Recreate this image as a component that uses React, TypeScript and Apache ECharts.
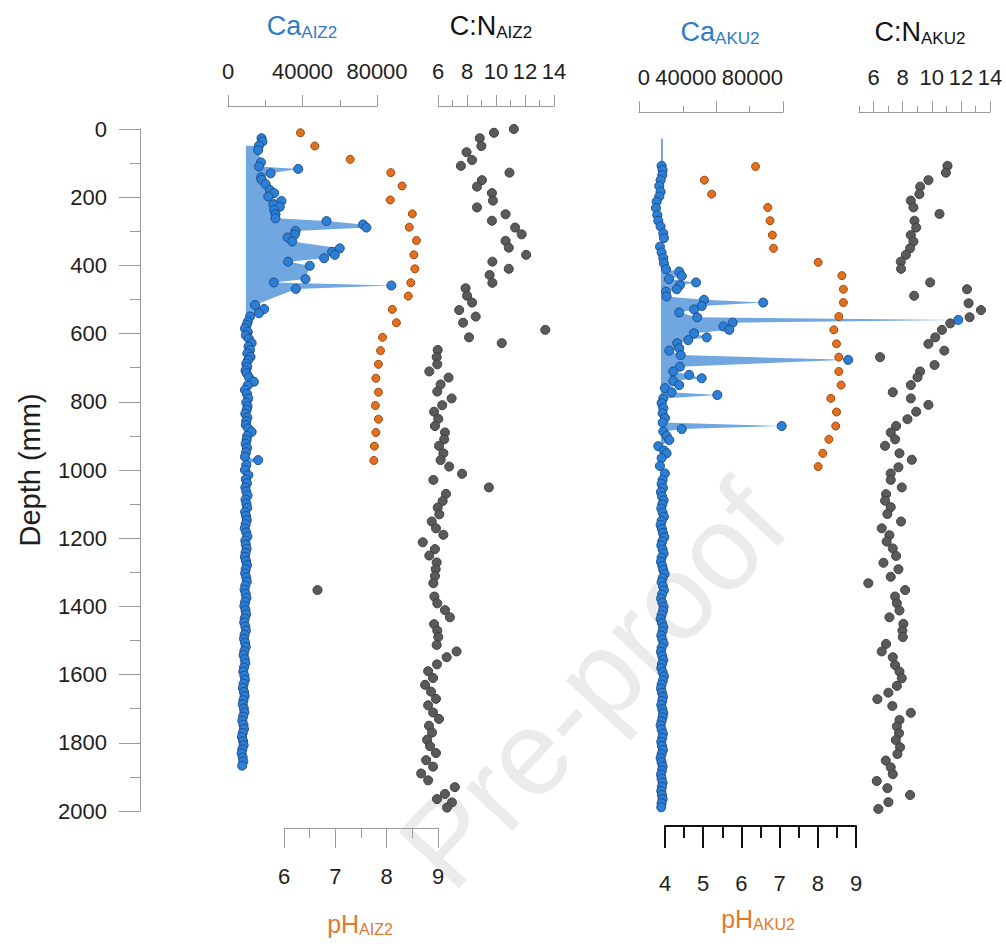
import React, { useEffect, useRef } from 'react';
import * as echarts from 'echarts';

// ---------- data: [value, depth (mm)] ----------
const CA_AIZ2: [number, number][] = [
  [18000, 27], [18500, 37], [16600, 49], [16200, 62], [17700, 98], [16600, 110], [37700, 117], [22900, 130],
  [17700, 142], [18100, 149], [20200, 162], [22500, 179], [24800, 188], [21600, 198], [28700, 211], [24300, 221],
  [27800, 228], [24800, 237], [25500, 250], [25500, 262], [52900, 270], [72500, 280], [74300, 289], [36300, 299],
  [35900, 309], [32000, 318], [34500, 330], [60000, 350], [55900, 360], [57300, 369], [51600, 379], [32300, 389],
  [43900, 401], [41600, 440], [24600, 450], [87700, 459], [36400, 469], [14500, 516], [19400, 528], [16600, 540],
  [11800, 550], [10600, 565], [10000, 575], [9100, 585], [10600, 595], [9600, 605], [11200, 615], [12700, 628],
  [11000, 638], [11800, 648], [10400, 658], [12100, 668], [10800, 678], [9800, 688], [10300, 698], [9400, 708],
  [10000, 716], [11200, 728], [13900, 741], [10600, 752], [9100, 765], [10200, 777], [10900, 790], [9800, 802],
  [10500, 813], [10000, 824], [9300, 835], [10400, 846], [9800, 857], [9600, 868], [10800, 878], [12700, 888],
  [10300, 900], [10000, 912], [9500, 923], [10200, 935], [9700, 948], [9100, 961], [16200, 971], [9800, 985],
  [9100, 1000], [10900, 1015], [9600, 1027], [10200, 1039], [9300, 1051], [9800, 1063], [10500, 1075], [9400, 1087],
  [9900, 1099], [10300, 1111], [9200, 1123], [9700, 1135], [10100, 1147], [9500, 1159], [9000, 1171], [9800, 1183],
  [10400, 1195], [9300, 1207], [9600, 1219], [10000, 1231], [9400, 1243], [9100, 1255], [9700, 1267], [10200, 1279],
  [9500, 1291], [9200, 1303], [9800, 1315], [10100, 1327], [9300, 1339], [8900, 1351], [9500, 1363], [9900, 1375],
  [9200, 1387], [8800, 1399], [9400, 1411], [9700, 1423], [9000, 1435], [8700, 1447], [9300, 1459], [9600, 1471],
  [8900, 1483], [8600, 1495], [9200, 1507], [9500, 1519], [8800, 1531], [8400, 1543], [9000, 1555], [9300, 1567],
  [8600, 1579], [8200, 1591], [8800, 1603], [9100, 1615], [8400, 1627], [8000, 1639], [8600, 1651], [8900, 1663],
  [8300, 1675], [7900, 1687], [8500, 1699], [8800, 1711], [8100, 1723], [7700, 1735], [8300, 1747], [8600, 1759],
  [7900, 1771], [7500, 1783], [8100, 1795], [8400, 1807], [7700, 1819], [7300, 1831], [7900, 1843], [8200, 1855],
  [7600, 1867],
];
const CA_AIZ2_BASE = 9600;
const CA_AIZ2_FILL_FROM = 45;

const PH_AIZ2: [number, number][] = [
  [6.32, 11], [6.6, 50], [7.29, 89], [8.08, 128], [8.3, 167], [8.07, 208], [8.5, 249], [8.44, 288], [8.58, 327],
  [8.53, 369], [8.55, 410], [8.47, 451], [8.42, 490], [8.11, 529], [8.19, 568], [7.92, 611], [7.88, 650],
  [7.84, 690], [7.79, 731], [7.84, 772], [7.78, 811], [7.84, 851], [7.79, 890], [7.76, 930], [7.75, 972],
];

const CN_AIZ2: [number, number][] = [
  [11.23, 0], [9.86, 11], [8.88, 27], [8.99, 50], [7.97, 68], [8.35, 91], [7.58, 108], [10.93, 128], [9.03, 150],
  [8.69, 169], [9.72, 188], [9.79, 210], [8.69, 230], [10.66, 250], [9.72, 269], [11.32, 289], [11.77, 309],
  [10.66, 328], [10.88, 348], [12.08, 369], [9.75, 389], [10.88, 410], [9.56, 428], [9.75, 451], [7.9, 467],
  [8.01, 489], [8.35, 509], [7.46, 531], [8.6, 550], [7.73, 568], [13.4, 589], [8.14, 611], [10.4, 628],
  [5.98, 648], [5.91, 669], [5.95, 690], [5.4, 711], [6.73, 729], [6.18, 749], [5.95, 770], [6.94, 790],
  [6.29, 810], [5.73, 829], [6.02, 850], [5.79, 871], [6.48, 890], [6.43, 910], [6.07, 929], [6.37, 951],
  [6.18, 971], [6.77, 990], [7.66, 1011], [5.68, 1029], [9.51, 1051], [6.55, 1070], [6.32, 1091], [5.98, 1110],
  [6.09, 1130], [5.57, 1151], [5.86, 1171], [6.37, 1190], [4.95, 1212], [5.79, 1232], [5.4, 1251], [5.91, 1271],
  [5.84, 1291], [5.79, 1311], [5.68, 1332], [-2.31, 1352], [5.75, 1371], [5.95, 1391], [6.48, 1411], [6.82, 1432],
  [5.73, 1452], [5.95, 1471], [6.02, 1490], [5.91, 1513], [7.28, 1532], [6.6, 1549], [5.93, 1570], [5.32, 1590],
  [5.66, 1610], [5.11, 1630], [5.52, 1650], [5.86, 1671], [5.32, 1690], [5.66, 1711], [6.07, 1730], [5.38, 1750],
  [5.59, 1770], [5.25, 1791], [5.45, 1810], [5.86, 1830], [5.18, 1851], [5.66, 1870], [4.84, 1890], [5.32, 1910],
  [7.16, 1930], [6.48, 1950], [5.93, 1965], [6.96, 1975], [6.62, 1990],
];

const CA_AKU2: [number, number][] = [
  [7000, 108], [7600, 120], [7400, 135], [6400, 150], [5600, 167], [6400, 184], [5600, 198], [4000, 213],
  [3600, 232], [4400, 252], [5000, 269], [6400, 286], [8000, 306], [8400, 320], [6000, 345], [7000, 362],
  [8000, 379], [8400, 394], [9600, 411], [17600, 418], [19100, 431], [11400, 440], [27700, 450], [18000, 458],
  [16100, 470], [9600, 477], [10000, 491], [32500, 501], [68100, 509], [31100, 519], [26500, 529], [17600, 538],
  [28400, 552], [185400, 560], [49700, 568], [44100, 579], [47700, 589], [26500, 599], [34100, 611], [23000, 619],
  [16400, 628], [17600, 643], [11600, 650], [18500, 663], [119200, 677], [18000, 697], [14000, 711], [23600, 721],
  [31100, 731], [14000, 738], [17600, 751], [9000, 760], [13000, 772], [40500, 780], [8000, 790], [7000, 804],
  [8000, 819], [7600, 834], [9000, 848], [7600, 861], [79200, 871], [19100, 880], [8000, 887], [10000, 900],
  [11600, 912], [5000, 930], [8400, 943], [10000, 951], [7000, 965], [6000, 988], [9000, 1010], [7600, 1029],
  [7000, 1041], [7800, 1053], [6600, 1065], [7200, 1077], [8200, 1089], [7400, 1101], [6800, 1113], [7600, 1125],
  [8400, 1137], [7000, 1149], [6400, 1161], [7200, 1173], [7800, 1185], [8600, 1197], [7400, 1209], [6800, 1221],
  [7600, 1233], [8200, 1245], [7000, 1257], [6600, 1269], [7400, 1281], [8000, 1293], [8800, 1305], [7600, 1317],
  [7000, 1329], [7800, 1341], [8400, 1353], [7200, 1365], [6600, 1377], [7400, 1389], [8200, 1401], [7800, 1413],
  [7000, 1425], [6400, 1437], [7200, 1449], [8000, 1461], [7600, 1473], [6800, 1485], [7400, 1497], [8200, 1509],
  [7000, 1521], [6600, 1533], [7400, 1545], [8000, 1557], [7200, 1569], [6800, 1581], [7600, 1593], [8400, 1605],
  [7800, 1617], [7000, 1629], [6600, 1641], [7200, 1653], [7800, 1665], [7400, 1677], [6800, 1689], [7400, 1701],
  [8000, 1713], [7600, 1725], [7000, 1737], [6400, 1749], [7000, 1761], [7800, 1773], [7400, 1785], [6800, 1797],
  [7200, 1809], [7800, 1821], [7000, 1833], [6400, 1845], [7000, 1857], [7600, 1869], [7200, 1881], [6600, 1893],
  [7000, 1905], [7600, 1917], [7200, 1929], [6800, 1941], [7200, 1953], [7600, 1965], [7000, 1977], [6800, 1989],
];
const CA_AKU2_BASE = 6600;
const CA_AKU2_FILL_FROM = 0;
const CA_AKU2_FILL_LEAD: [number, number][] = [[7800, 28], [7800, 100]];

const PH_AKU2: [number, number][] = [
  [6.37, 110], [5.03, 150], [5.22, 191], [6.69, 230], [6.75, 269], [6.81, 311], [6.84, 350], [8.01, 391],
  [8.63, 430], [8.67, 470], [8.67, 509], [8.55, 550], [8.42, 589], [8.49, 630], [8.55, 669], [8.55, 711],
  [8.61, 751], [8.34, 790], [8.49, 830], [8.47, 871], [8.29, 910], [8.13, 951], [8.01, 990],
];

const CN_AKU2: [number, number][] = [
  [11.08, 108], [10.97, 128], [9.77, 150], [9.2, 169], [9.15, 191], [8.56, 210], [8.74, 230], [10.53, 249],
  [8.81, 269], [8.93, 289], [8.56, 311], [8.74, 330], [8.51, 350], [8.22, 369], [7.87, 389], [7.89, 410],
  [9.89, 450], [12.42, 470], [8.79, 489], [12.53, 511], [13.38, 531], [12.6, 552], [11.27, 570], [10.7, 589],
  [10.24, 611], [9.77, 630], [10.86, 650], [6.45, 669], [10.19, 692], [9.2, 711], [9.02, 728], [8.56, 751],
  [7.32, 772], [8.56, 790], [9.77, 809], [8.93, 829], [8.33, 851], [7.55, 871], [7.18, 890], [7.48, 910],
  [6.79, 929], [7.78, 951], [8.63, 970], [7.71, 992], [7.18, 1010], [7.18, 1029], [7.94, 1051], [6.86, 1071],
  [6.79, 1090], [7.18, 1109], [6.95, 1129], [7.89, 1151], [6.56, 1171], [7.09, 1191], [6.9, 1210], [7.32, 1230],
  [7.55, 1252], [6.68, 1272], [7.71, 1291], [7.18, 1313], [5.64, 1332], [8.17, 1352], [7.48, 1371], [7.6, 1391],
  [7.78, 1412], [7.09, 1432], [8.05, 1451], [7.98, 1471], [8.01, 1490], [6.86, 1510], [6.56, 1532], [7.32, 1549],
  [7.48, 1572], [7.78, 1591], [7.94, 1611], [7.6, 1633], [7.02, 1653], [6.26, 1672], [7.29, 1692], [8.56, 1712],
  [7.78, 1733], [7.6, 1752], [7.75, 1772], [7.53, 1792], [7.82, 1813], [7.64, 1833], [6.84, 1852], [7.18, 1872],
  [7.32, 1892], [6.22, 1912], [6.95, 1933], [8.51, 1953], [7.02, 1974], [6.33, 1994],
];

// tick / label values
const CA_AKU2_MINOR_TICKS = [20000, 60000];
const CA_AKU2_MAJOR_TICKS = [-6600, 40000, 80000];
const CA_AKU2_LABELS = [0, 40000, 80000];
const CN_AKU2_MINOR_TICKS = [5, 7, 9, 11, 13];
const CN_AKU2_MAJOR_TICKS = [6, 8, 10, 12, 14];

// ---------- styles ----------
const FONT = "'Liberation Sans', Arial, Helvetica, sans-serif";
const GRAY = '#9b9b9b';
const TXT = '#1e1e1e';
const BLUE = '#2f7cc6';
const ORANGE = '#e0792b';
const FILL = '#70a7e0';
const LABEL_SIZE = 22;

const GRID_TOP = 129;
const GRID_H = 682;

const plain = (v: number) => String(v);

function makeFill(pts: [number, number][], base: number, fromDepth: number, lead: [number, number][]) {
  return (params: any, api: any) => {
    if (params.dataIndex !== 0) return null;
    const path = [...lead, ...pts.filter((p) => p[1] >= fromDepth)];
    const poly: number[][] = [];
    poly.push(api.coord([base, path[0][1]]));
    path.forEach((p) => poly.push(api.coord([Math.max(p[0], base), p[1]])));
    poly.push(api.coord([base, path[path.length - 1][1]]));
    return { type: 'polygon', silent: true, shape: { points: poly }, style: { fill: FILL } };
  };
}

function label(margin: number, extra: any = {}) {
  return {
    show: true, color: TXT, fontSize: LABEL_SIZE, fontFamily: FONT, margin, formatter: plain,
    showMinLabel: true, showMaxLabel: true, ...extra,
  };
}

function xAxis(o: any) {
  const color = o.color || GRAY;
  const width = o.lineWidth || 1;
  return {
    type: 'value',
    gridIndex: o.grid,
    position: o.position,
    min: o.min,
    max: o.max,
    ...(o.interval !== undefined ? { interval: o.interval } : {}),
    offset: o.offset,
    axisLine: { show: o.line !== false, onZero: false, lineStyle: { color, width } },
    axisTick: {
      show: true, length: o.tickLen, lineStyle: { color, width },
      ...(o.tickValues ? { customValues: o.tickValues } : {}),
    },
    minorTick: o.minorLen
      ? { show: true, splitNumber: 2, length: o.minorLen, lineStyle: { color, width } }
      : { show: false },
    axisLabel: o.labels === false
      ? { show: false }
      : label(o.margin, { ...(o.labelValues ? { customValues: o.labelValues } : {}), ...(o.labelExtra || {}) }),
    splitLine: { show: false },
    minorSplitLine: { show: false },
  };
}

function hiddenY(grid: number) {
  return {
    type: 'value', gridIndex: grid, inverse: true, min: 0, max: 2000, show: false,
    axisLine: { onZero: false }, splitLine: { show: false },
  };
}

function title(x: number, y: number, main: string, sub: string, color: string, mainSize: number, subSize: number) {
  return {
    type: 'text',
    x, y, z: 10,
    style: {
      text: `{m|${main}}{s|${sub}}`,
      align: 'center',
      verticalAlign: 'middle',
      rich: {
        m: { fontSize: mainSize, fill: color, color, fontFamily: FONT, lineHeight: mainSize + 3 },
        s: { fontSize: subSize, fill: color, color, fontFamily: FONT, lineHeight: subSize, verticalAlign: 'bottom' },
      },
    },
  };
}

function scatter(data: [number, number][], xi: number, yi: number, color: string, border: string, size: number, z: number) {
  return {
    type: 'scatter', xAxisIndex: xi, yAxisIndex: yi, data, clip: false, z,
    symbol: 'circle', symbolSize: size, silent: true,
    itemStyle: { color, borderColor: border, borderWidth: 1, opacity: 1 },
  };
}

export default function App() {
  const ref = useRef<HTMLDivElement>(null);
  useEffect(() => {
    document.body.style.margin = '0';
    const chart = echarts.init(ref.current!, null, { renderer: 'svg' });
    const grids = [
      { left: 228, width: 149 }, // Ca AIZ2
      { left: 284, width: 154 }, // pH AIZ2
      { left: 438, width: 116 }, // C:N AIZ2
      { left: 639, width: 144 }, // Ca AKU2
      { left: 665, width: 191 }, // pH AKU2
      { left: 859, width: 131 }, // C:N AKU2
    ].map((g) => ({ ...g, top: GRID_TOP, height: GRID_H, containLabel: false, outerBoundsMode: 'none' }));

    const option: any = {
      animation: false,
      backgroundColor: '#ffffff',
      grid: grids,
      xAxis: [
        xAxis({ grid: 0, position: 'top', min: 0, max: 80000, interval: 40000, offset: 23, tickLen: 11, minorLen: 6, margin: 24 }),
        xAxis({ grid: 1, position: 'bottom', min: 6, max: 9, interval: 1, offset: 17, tickLen: 20, minorLen: 10, margin: 37 }),
        xAxis({ grid: 2, position: 'top', min: 6, max: 14, interval: 2, offset: 23, tickLen: 11, minorLen: 6, margin: 24 }),
        xAxis({ grid: 3, position: 'top', min: -6600, max: 80000, offset: 17, tickLen: 6, tickValues: CA_AKU2_MINOR_TICKS, labels: false }),
        xAxis({ grid: 3, position: 'top', min: -6600, max: 80000, offset: 17, tickLen: 11, line: false, tickValues: CA_AKU2_MAJOR_TICKS, labelValues: CA_AKU2_LABELS, margin: 24, labelExtra: { align: 'right' } }),
        xAxis({ grid: 4, position: 'bottom', min: 4, max: 9, interval: 1, offset: 15, tickLen: 22, minorLen: 12, margin: 46, color: '#111111', lineWidth: 2 }),
        xAxis({ grid: 5, position: 'top', min: 5, max: 14, offset: 17, tickLen: 6, tickValues: CN_AKU2_MINOR_TICKS, labels: false }),
        xAxis({ grid: 5, position: 'top', min: 5, max: 14, offset: 17, tickLen: 11, line: false, tickValues: CN_AKU2_MAJOR_TICKS, labelValues: CN_AKU2_MAJOR_TICKS, margin: 24 }),
      ],
      yAxis: [
        {
          type: 'value', gridIndex: 0, inverse: true, min: 0, max: 2000, interval: 200,
          position: 'left', offset: 88,
          name: 'Depth (mm)', nameLocation: 'middle', nameGap: 96,
          nameTextStyle: { fontSize: 29, color: TXT, fontFamily: FONT },
          axisLine: { show: true, onZero: false, lineStyle: { color: GRAY, width: 1 } },
          axisTick: { show: true, length: 21, lineStyle: { color: GRAY, width: 1 } },
          minorTick: { show: true, splitNumber: 2, length: 10, lineStyle: { color: GRAY, width: 1 } },
          axisLabel: label(33),
          splitLine: { show: false },
          minorSplitLine: { show: false },
        },
        hiddenY(1), hiddenY(2), hiddenY(3), hiddenY(4), hiddenY(5),
      ],
      graphic: [
        {
          type: 'text', x: 592, y: 684, z: -10, silent: true,
          rotation: (47 * Math.PI) / 180,
          style: { text: 'Pre-proof', font: `120px ${FONT}`, fill: '#ebebeb', align: 'center', verticalAlign: 'middle' },
        },
        title(302, 25.5, 'Ca', 'AIZ2', BLUE, 27, 17),
        title(491, 25.5, 'C:N', 'AIZ2', '#111111', 27, 17),
        title(720, 31.5, 'Ca', 'AKU2', BLUE, 27, 17),
        title(920, 31.5, 'C:N', 'AKU2', '#111111', 27, 17),
        title(360, 923.5, 'pH', 'AIZ2', ORANGE, 25, 16),
        title(758, 918.5, 'pH', 'AKU2', ORANGE, 25, 16),
      ],
      series: [
        {
          type: 'custom', xAxisIndex: 0, yAxisIndex: 0, z: 1, silent: true,
          data: [[0, 0]], encode: { x: 0, y: 1 },
          renderItem: makeFill(CA_AIZ2, CA_AIZ2_BASE, CA_AIZ2_FILL_FROM, []),
        },
        {
          type: 'custom', xAxisIndex: 3, yAxisIndex: 3, z: 1, silent: true,
          data: [[0, 0]], encode: { x: 0, y: 1 },
          renderItem: makeFill(CA_AKU2, CA_AKU2_BASE, CA_AKU2_FILL_FROM, CA_AKU2_FILL_LEAD),
        },
        scatter(CN_AIZ2, 2, 2, '#5a5a5a', '#3e3e3e', 9, 2),
        scatter(CN_AKU2, 7, 5, '#5a5a5a', '#3e3e3e', 9, 2),
        scatter(PH_AIZ2, 1, 1, '#e3701e', '#9a4a13', 8, 3),
        scatter(PH_AKU2, 5, 4, '#e3701e', '#9a4a13', 8, 3),
        scatter(CA_AIZ2, 0, 0, '#2d7fd6', '#1b4e8c', 9, 4),
        scatter(CA_AKU2, 4, 3, '#2d7fd6', '#1b4e8c', 9, 4),
      ],
    };
    chart.setOption(option);
    return () => chart.dispose();
  }, []);
  return <div ref={ref} style={{ width: 1006, height: 944 }} />;
}
